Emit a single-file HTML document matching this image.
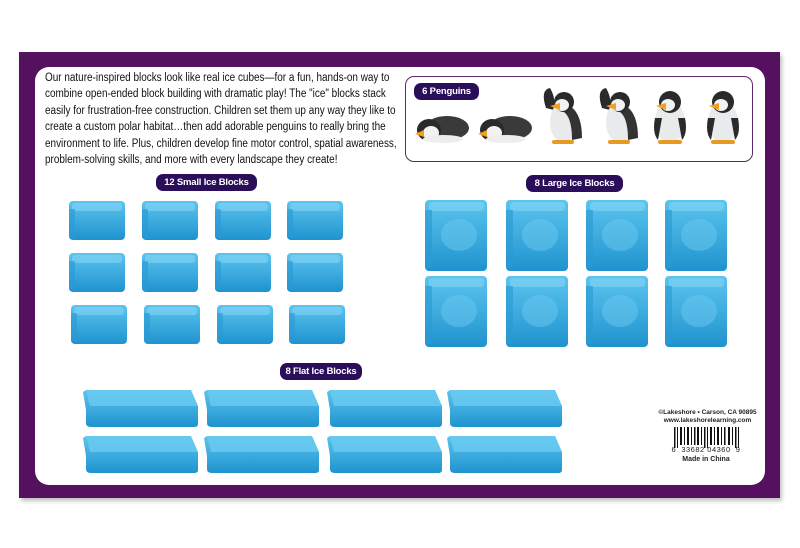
<!DOCTYPE html>
<html><head><meta charset="utf-8"><style>
body{margin:0;width:800px;height:548px;background:#fff;position:relative;overflow:hidden;font-family:"Liberation Sans",sans-serif}
.frame{position:absolute;left:19px;top:52px;width:761px;height:446px;background:#561060;box-shadow:2px 3px 4px rgba(0,0,0,.25)}
.inner{position:absolute;left:35px;top:67px;width:730px;height:418px;background:#fff;border-radius:14px}
.p{position:absolute;left:45px;top:70px;font-size:11.5px;line-height:16.4px;color:#111;white-space:nowrap;transform:scaleX(0.865);transform-origin:0 0}
.pill{position:absolute;background:#2b0e5a;color:#fff;font-weight:bold;font-size:9.5px;border-radius:7px;text-align:center;line-height:17px;height:17px;white-space:nowrap;letter-spacing:-0.2px}
.pb{position:absolute;left:405px;top:76px;width:346px;height:84px;border:1.5px solid #5a2a6a;border-radius:9px}
.ft{position:absolute;font-size:6.5px;color:#222;font-weight:bold;text-align:center;line-height:8px;white-space:nowrap}
svg{position:absolute;left:0;top:0}
</style></head><body>
<div class="frame"></div>
<div class="inner"></div>
<div class="p">Our nature-inspired blocks look like real ice cubes—for a fun, hands-on way to<br>combine open-ended block building with dramatic play! The "ice" blocks stack<br>easily for frustration-free construction. Children set them up any way they like to<br>create a custom polar habitat…then add adorable penguins to really bring the<br>environment to life. Plus, children develop fine motor control, spatial awareness,<br>problem-solving skills, and more with every landscape they create!</div>
<div class="pb"></div>
<svg width="800" height="548">
<defs>
<linearGradient id="g" x1="0" y1="0" x2="0" y2="1"><stop offset="0" stop-color="#5cc4ee"/><stop offset="1" stop-color="#1f93cf"/></linearGradient>
<g id="sb"><rect x="0" y="0" width="56" height="39" rx="4" fill="url(#g)"/><rect x="3" y="2" width="50" height="8" rx="3" fill="#7dd2f3" opacity=".7"/><rect x="0" y="8" width="6" height="29" fill="#2a9ad3" opacity=".6"/></g>
<g id="lb"><rect x="0" y="0" width="62" height="71" rx="4" fill="url(#g)"/><rect x="4" y="2" width="55" height="9" rx="3" fill="#7dd2f3" opacity=".7"/><rect x="0" y="10" width="7" height="58" fill="#2a9ad3" opacity=".6"/><ellipse cx="34" cy="35" rx="18" ry="16" fill="#6cc8ef" opacity=".5"/></g>
<g id="fb"><path d="M3 2 H108 L115 18 V36 Q115 39 111 39 H8 Q3 39 3 35 V22 L0 4 Z" fill="url(#g)"/><path d="M3 2 H108 L115 18 H7 Z" fill="#6ccaf0" opacity=".8"/></g>
<g id="ps"><path d="M4 20 Q-2 2 8 0 Q14 10 12 22 Z" fill="#2a2a2a"/><ellipse cx="22" cy="34" rx="14" ry="21" fill="#e8eaec"/><path d="M22 16 Q40 20 40 50 L30 52 Q30 30 22 24 Z" fill="#333"/><circle cx="22" cy="14" r="10" fill="#2a2a2a"/><ellipse cx="20" cy="17" rx="7" ry="6" fill="#f2f2f2"/><path d="M8 18 L18 15 L18 22 Z" fill="#f0a020"/><rect x="10" y="52" width="22" height="4" rx="2" fill="#e89a20"/></g>
<g id="pu"><ellipse cx="20" cy="34" rx="15" ry="21" fill="#e8eaec"/><path d="M5 30 Q2 45 8 52 L12 30 Z M35 30 Q38 45 32 52 L28 30Z" fill="#2a2a2a"/><circle cx="20" cy="14" r="11" fill="#2a2a2a"/><ellipse cx="18" cy="17" rx="7" ry="6" fill="#f2f2f2"/><path d="M6 18 L16 15 L16 22 Z" fill="#f0a020"/><rect x="8" y="52" width="24" height="4" rx="2" fill="#e89a20"/></g>
<g id="pl"><ellipse cx="32" cy="20" rx="22" ry="12" fill="#3a3a3a"/><ellipse cx="14" cy="22" rx="12" ry="11" fill="#2a2a2a"/><ellipse cx="16" cy="25" rx="8" ry="7" fill="#f2f2f2"/><path d="M0 26 L9 22 L9 29 Z" fill="#f0a020"/><ellipse cx="28" cy="31" rx="20" ry="4" fill="#eee"/></g>
</defs>
<use href="#pl" x="415" y="108"/><use href="#pl" x="478" y="108"/>
<use href="#ps" x="542" y="88"/><use href="#ps" x="598" y="88"/>
<use href="#pu" x="650" y="88"/><use href="#pu" x="703" y="88"/>
<g>
<use href="#sb" x="69" y="201"/><use href="#sb" x="142" y="201"/><use href="#sb" x="215" y="201"/><use href="#sb" x="287" y="201"/>
<use href="#sb" x="69" y="253"/><use href="#sb" x="142" y="253"/><use href="#sb" x="215" y="253"/><use href="#sb" x="287" y="253"/>
<use href="#sb" x="71" y="305"/><use href="#sb" x="144" y="305"/><use href="#sb" x="217" y="305"/><use href="#sb" x="289" y="305"/>
<use href="#lb" x="425" y="200"/><use href="#lb" x="506" y="200"/><use href="#lb" x="586" y="200"/><use href="#lb" x="665" y="200"/>
<use href="#lb" x="425" y="276"/><use href="#lb" x="506" y="276"/><use href="#lb" x="586" y="276"/><use href="#lb" x="665" y="276"/>
<use href="#fb" x="83" y="388"/><use href="#fb" x="204" y="388"/><use href="#fb" x="327" y="388"/><use href="#fb" x="447" y="388"/>
<use href="#fb" x="83" y="434"/><use href="#fb" x="204" y="434"/><use href="#fb" x="327" y="434"/><use href="#fb" x="447" y="434"/>
</g>
<g fill="#111">
<rect x="674" y="427" width="1.5" height="21"/><rect x="677" y="427" width="1" height="21"/><rect x="680" y="427" width="2" height="18"/><rect x="684" y="427" width="1" height="18"/><rect x="687" y="427" width="2" height="18"/><rect x="691" y="427" width="1" height="18"/><rect x="694" y="427" width="1.5" height="18"/><rect x="697" y="427" width="2" height="18"/><rect x="701" y="427" width="1" height="18"/><rect x="704" y="427" width="1.5" height="21"/><rect x="707" y="427" width="1" height="21"/><rect x="710" y="427" width="2" height="18"/><rect x="714" y="427" width="1" height="18"/><rect x="717" y="427" width="2" height="18"/><rect x="721" y="427" width="1" height="18"/><rect x="724" y="427" width="1.5" height="18"/><rect x="728" y="427" width="2" height="18"/><rect x="732" y="427" width="1" height="18"/><rect x="735" y="427" width="1.5" height="21"/><rect x="738" y="427" width="1" height="21"/>
</g>
</svg>
<div class="pill" style="left:414px;top:83px;width:65px">6 Penguins</div>
<div class="pill" style="left:156px;top:174px;width:101px">12 Small Ice Blocks</div>
<div class="pill" style="left:526px;top:175px;width:97px">8 Large Ice Blocks</div>
<div class="pill" style="left:280px;top:363px;width:82px">8 Flat Ice Blocks</div>
<div class="ft" style="left:655px;top:409px;width:105px">©Lakeshore • Carson, CA 90895<br>www.lakeshorelearning.com</div>
<div class="ft" style="left:666px;top:446px;width:80px;font-weight:normal;font-size:7.5px;letter-spacing:0.5px">6 &nbsp;33682 04360 &nbsp;9</div>
<div class="ft" style="left:666px;top:456px;width:80px;font-size:7px">Made in China</div>
</body></html>
